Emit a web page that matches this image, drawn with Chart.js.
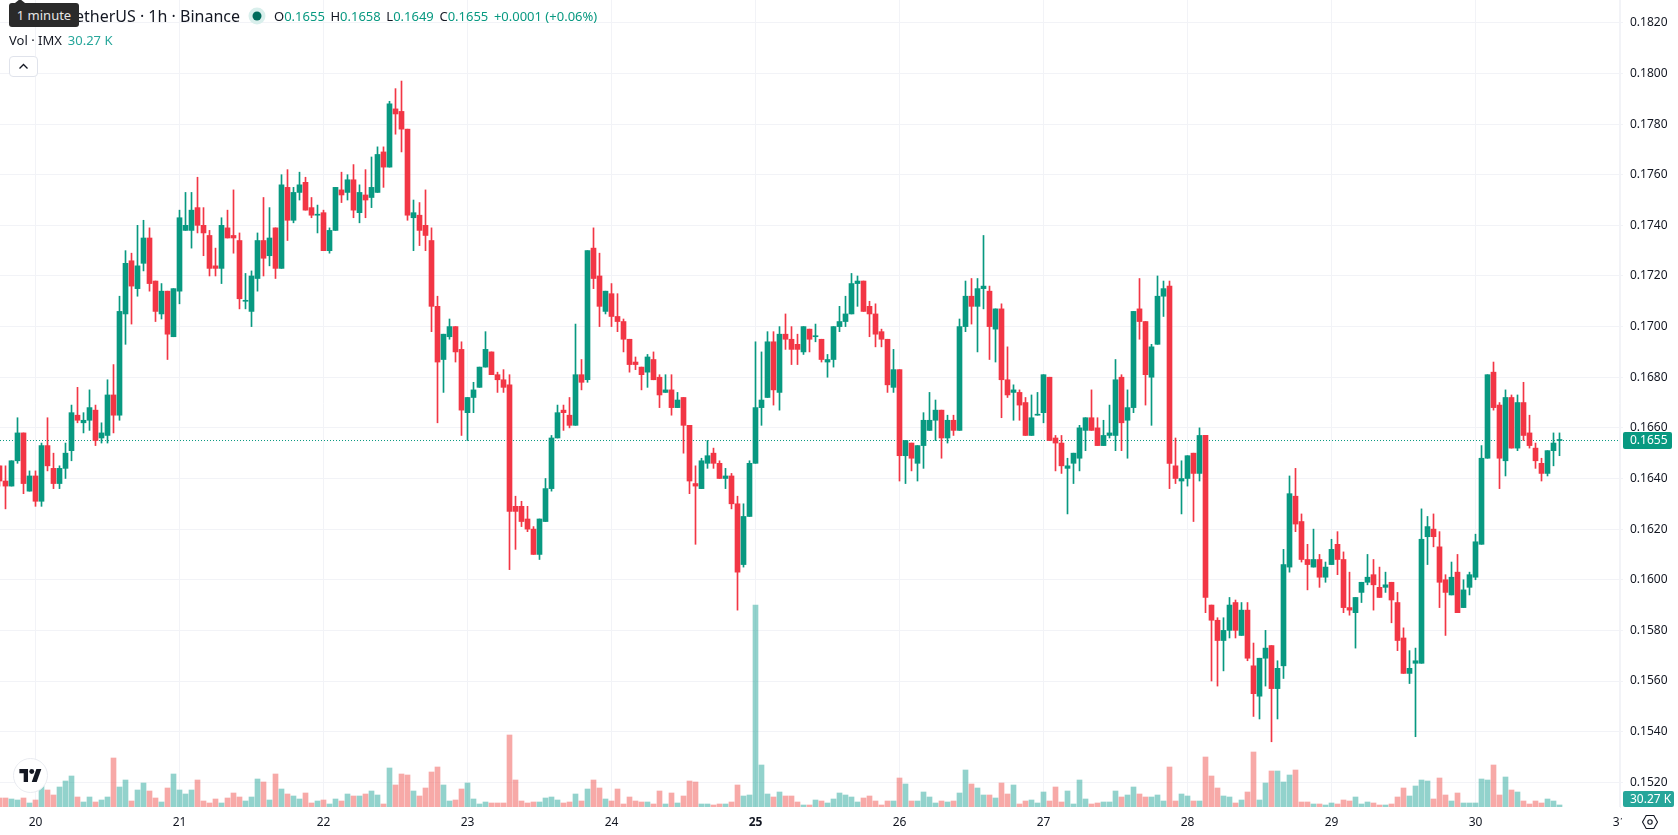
<!DOCTYPE html>
<html>
<head>
<meta charset="utf-8">
<title>IMX / TetherUS 1h</title>
<script src="https://cdn.jsdelivr.net/npm/chart.js@4.4.1/dist/chart.umd.js"></script>
<style>
  html, body { margin: 0; padding: 0; background: #fff; overflow: hidden; }
  body { width: 1678px; height: 835px; position: relative; font-family: "Noto Sans", sans-serif; color: #131722; }
  canvas { position: absolute; left: 0; top: 0; }
  .abs { position: absolute; white-space: nowrap; }
  .up { color: #089981; }
  .vol { color: #26a69a; }
  #title { right: calc(100% - 240px); top: 5px; font-size: 16px; line-height: 22px; }
  #ohlc { left: 274px; top: 6px; font-size: 13px; line-height: 20px; }
  #ohlc b { font-weight: 400; margin-left: 5.6px; }
  #ohlc b:first-child { margin-left: 0; }
  #vollegend { left: 9px; top: 30px; font-size: 13px; line-height: 20px; }
  #vollegend .vol { margin-left: 6px; }
  #hint { left: 9px; top: 3px; width: 70px; height: 24px; line-height: 24px; background: #2a2a2a; color: #e6e6e6;
          border-radius: 3px; font-size: 13px; text-align: center; }
  #hint::before { content: ""; position: absolute; left: 6px; top: -4px; border-left: 5px solid transparent;
          border-right: 5px solid transparent; border-bottom: 4px solid #2a2a2a; }
  #collapse { left: 9px; top: 56px; width: 27px; height: 19px; border: 1px solid #e0e3eb; border-radius: 4px; background: #fff; }
  #logo { left: 13px; top: 758px; width: 33px; height: 33px; border: 1px solid #e9ebf0; border-radius: 50%; background: #fff; }
</style>
</head>
<body>
<canvas id="chart" width="1678" height="835"></canvas>

<div class="abs" id="title">IMX / TetherUS · 1h · Binance</div>
<svg class="abs" style="left:248px;top:7px" width="18" height="18">
  <circle cx="9" cy="9" r="8.5" fill="#d9efec"/>
  <circle cx="9" cy="9" r="4.5" fill="#006b5b"/>
</svg>
<div class="abs" id="ohlc">
  <b>O<span class="up">0.1655</span></b><b>H<span class="up">0.1658</span></b><b>L<span class="up">0.1649</span></b><b>C<span class="up">0.1655</span></b><b class="up">+0.0001 (+0.06%)</b>
</div>
<div class="abs" id="vollegend">Vol · IMX<span class="vol">30.27 K</span></div>
<div class="abs" id="hint">1 minute</div>
<div class="abs" id="collapse">
  <svg width="27" height="19"><path d="M9.5 11.5l4-4 4 4" fill="none" stroke="#131722" stroke-width="1.3"/></svg>
</div>
<div class="abs" id="logo">
  <svg style="position:absolute;left:5px;top:10px" width="23" height="13" viewBox="0 0 36 21">
    <path d="M14 21H7V7H0V0h14z" fill="#131722"/>
    <circle cx="20" cy="4" r="4" fill="#131722"/>
    <path d="M28 21h-8l7.5-21h8z" fill="#131722"/>
  </svg>
</div>
<svg class="abs" style="left:1642px;top:813px" width="16" height="18" viewBox="0 0 16 18">
  <path d="M4.2 2.5h7.6L15.5 9l-3.7 6.5H4.2L.5 9z" fill="none" stroke="#131722" stroke-width="1.1"/>
  <circle cx="8" cy="9" r="2.2" fill="none" stroke="#131722" stroke-width="1.1"/>
</svg>

<script>
// Hourly candles, index 0 is the first (partly cut off) bar on the left
const opens = [
  0.1645,0.1639,0.1637,0.1647,0.1658,0.1635,0.1641,0.1631,0.1653,0.1644,
  0.1638,0.1644,0.1651,0.1665,0.1662,0.1663,0.1667,0.1656,0.1657,0.1673,
  0.1665,0.1705,0.1726,0.1715,0.1725,0.1735,0.1718,0.1705,0.1714,0.1696,
  0.1714,0.1738,0.1738,0.1747,0.1740,0.1736,0.1724,0.1723,0.1739,0.1736,
  0.1734,0.1710,0.1706,0.1719,0.1734,0.1728,0.1739,0.1723,0.1755,0.1742,
  0.1753,0.1757,0.1747,0.1744,0.1745,0.1730,0.1738,0.1754,0.1753,0.1758,
  0.1745,0.1752,0.1751,0.1753,0.1769,0.1763,0.1786,0.1785,0.1778,0.1743,
  0.1744,0.1740,0.1734,0.1708,0.1687,0.1696,0.1700,0.1691,0.1666,0.1672,
  0.1676,0.1684,0.1690,0.1681,0.1679,0.1677,0.1629,0.1629,0.1624,0.1620,
  0.1610,0.1623,0.1636,0.1656,0.1667,0.1665,0.1661,0.1681,0.1679,0.1731,
  0.1720,0.1706,0.1713,0.1704,0.1702,0.1695,0.1686,0.1684,0.1682,0.1687,
  0.1680,0.1674,0.1675,0.1668,0.1672,0.1661,0.1638,0.1636,0.1646,0.1650,
  0.1646,0.1640,0.1641,0.1630,0.1606,0.1625,0.1646,0.1668,0.1672,0.1694,
  0.1674,0.1697,0.1695,0.1693,0.1690,0.1699,0.1696,0.1695,0.1686,0.1687,
  0.1700,0.1702,0.1705,0.1717,0.1718,0.1708,0.1705,0.1698,0.1695,0.1676,
  0.1683,0.1649,0.1654,0.1646,0.1653,0.1659,0.1663,0.1667,0.1656,0.1663,
  0.1659,0.1700,0.1712,0.1708,0.1715,0.1714,0.1699,0.1707,0.1679,0.1674,
  0.1674,0.1670,0.1657,0.1665,0.1666,0.1680,0.1656,0.1654,0.1644,0.1646,
  0.1648,0.1659,0.1664,0.1660,0.1653,0.1657,0.1657,0.1680,0.1663,0.1668,
  0.1707,0.1702,0.1680,0.1693,0.1712,0.1716,0.1645,0.1639,0.1640,0.1650,
  0.1642,0.1657,0.1590,0.1584,0.1576,0.1580,0.1591,0.1578,0.1588,0.1566,
  0.1554,0.1569,0.1574,0.1557,0.1566,0.1605,0.1633,0.1623,0.1608,0.1605,
  0.1608,0.1601,0.1606,0.1614,0.1608,0.1589,0.1587,0.1595,0.1599,0.1602,
  0.1597,0.1597,0.1599,0.1591,0.1577,0.1563,0.1567,0.1567,0.1617,0.1620,
  0.1613,0.1600,0.1594,0.1603,0.1589,0.1597,0.1601,0.1614,0.1648,0.1682,
  0.1669,0.1647,0.1672,0.1652,0.1670,0.1658,0.1652,0.1646,0.1642,0.1651,
  0.1655,
];
const highs = [
  0.1645,0.1645,0.1647,0.1664,0.1658,0.1643,0.1643,0.1654,0.1664,0.1650,
  0.1645,0.1654,0.1669,0.1676,0.1666,0.1675,0.1669,0.1662,0.1679,0.1685,
  0.1712,0.1730,0.1729,0.1740,0.1742,0.1739,0.1718,0.1717,0.1714,0.1715,
  0.1746,0.1753,0.1753,0.1759,0.1747,0.1738,0.1731,0.1743,0.1746,0.1754,
  0.1737,0.1721,0.1722,0.1737,0.1751,0.1747,0.1739,0.1760,0.1762,0.1755,
  0.1761,0.1759,0.1751,0.1748,0.1746,0.1739,0.1755,0.1761,0.1760,0.1764,
  0.1756,0.1762,0.1767,0.1771,0.1771,0.1789,0.1794,0.1797,0.1778,0.1750,
  0.1749,0.1754,0.1739,0.1712,0.1697,0.1703,0.1700,0.1694,0.1672,0.1678,
  0.1684,0.1698,0.1690,0.1682,0.1683,0.1681,0.1633,0.1631,0.1629,0.1621,
  0.1624,0.1640,0.1657,0.1669,0.1669,0.1672,0.1701,0.1687,0.1730,0.1739,
  0.1729,0.1714,0.1717,0.1713,0.1703,0.1695,0.1688,0.1684,0.1689,0.1690,
  0.1681,0.1681,0.1681,0.1674,0.1672,0.1661,0.1645,0.1648,0.1655,0.1652,
  0.1647,0.1644,0.1642,0.1633,0.1630,0.1647,0.1694,0.1690,0.1698,0.1698,
  0.1700,0.1705,0.1700,0.1697,0.1700,0.1699,0.1701,0.1695,0.1689,0.1700,
  0.1708,0.1712,0.1721,0.1720,0.1718,0.1710,0.1709,0.1699,0.1695,0.1691,
  0.1683,0.1655,0.1654,0.1653,0.1666,0.1674,0.1671,0.1667,0.1665,0.1665,
  0.1703,0.1718,0.1719,0.1719,0.1736,0.1716,0.1707,0.1709,0.1692,0.1677,
  0.1675,0.1672,0.1673,0.1674,0.1681,0.1680,0.1657,0.1657,0.1648,0.1650,
  0.1661,0.1664,0.1675,0.1664,0.1663,0.1669,0.1687,0.1681,0.1675,0.1706,
  0.1719,0.1702,0.1693,0.1720,0.1718,0.1718,0.1656,0.1647,0.1649,0.1650,
  0.1660,0.1657,0.1590,0.1585,0.1585,0.1593,0.1592,0.1591,0.1591,0.1575,
  0.1569,0.1580,0.1574,0.1568,0.1612,0.1641,0.1644,0.1626,0.1614,0.1620,
  0.1610,0.1607,0.1616,0.1619,0.1611,0.1603,0.1593,0.1599,0.1610,0.1608,
  0.1605,0.1603,0.1599,0.1595,0.1581,0.1572,0.1573,0.1628,0.1625,0.1626,
  0.1619,0.1602,0.1607,0.1610,0.1600,0.1603,0.1618,0.1653,0.1681,0.1686,
  0.1670,0.1675,0.1673,0.1673,0.1678,0.1665,0.1654,0.1648,0.1651,0.1658,
  0.1658,
];
const lows = [
  0.1637,0.1628,0.1637,0.1646,0.1634,0.1635,0.1629,0.1629,0.1643,0.1636,
  0.1636,0.1640,0.1647,0.1662,0.1658,0.1659,0.1653,0.1654,0.1654,0.1658,
  0.1663,0.1693,0.1701,0.1712,0.1722,0.1714,0.1702,0.1703,0.1687,0.1696,
  0.1709,0.1738,0.1731,0.1737,0.1728,0.1720,0.1720,0.1717,0.1735,0.1729,
  0.1707,0.1707,0.1700,0.1714,0.1720,0.1724,0.1719,0.1723,0.1734,0.1741,
  0.1750,0.1746,0.1743,0.1737,0.1730,0.1729,0.1738,0.1749,0.1750,0.1743,
  0.1741,0.1743,0.1747,0.1753,0.1755,0.1763,0.1776,0.1769,0.1742,0.1730,
  0.1732,0.1730,0.1698,0.1662,0.1674,0.1695,0.1686,0.1657,0.1655,0.1666,
  0.1676,0.1684,0.1681,0.1674,0.1674,0.1604,0.1612,0.1621,0.1619,0.1610,
  0.1608,0.1623,0.1635,0.1656,0.1659,0.1660,0.1661,0.1675,0.1678,0.1715,
  0.1700,0.1705,0.1700,0.1698,0.1690,0.1682,0.1683,0.1675,0.1676,0.1679,
  0.1668,0.1674,0.1665,0.1668,0.1650,0.1634,0.1614,0.1636,0.1644,0.1644,
  0.1640,0.1636,0.1628,0.1588,0.1605,0.1625,0.1646,0.1661,0.1672,0.1669,
  0.1667,0.1691,0.1685,0.1685,0.1689,0.1690,0.1694,0.1686,0.1680,0.1684,
  0.1698,0.1700,0.1705,0.1708,0.1706,0.1696,0.1692,0.1692,0.1674,0.1674,
  0.1639,0.1638,0.1643,0.1639,0.1644,0.1659,0.1655,0.1648,0.1654,0.1657,
  0.1659,0.1698,0.1701,0.1690,0.1707,0.1687,0.1686,0.1664,0.1672,0.1663,
  0.1663,0.1657,0.1657,0.1665,0.1662,0.1655,0.1643,0.1642,0.1626,0.1638,
  0.1643,0.1651,0.1659,0.1653,0.1653,0.1656,0.1651,0.1651,0.1648,0.1666,
  0.1695,0.1669,0.1661,0.1693,0.1704,0.1636,0.1638,0.1626,0.1637,0.1623,
  0.1639,0.1587,0.1560,0.1558,0.1564,0.1577,0.1577,0.1578,0.1568,0.1546,
  0.1545,0.1558,0.1536,0.1545,0.1561,0.1603,0.1619,0.1607,0.1596,0.1605,
  0.1597,0.1599,0.1606,0.1602,0.1587,0.1586,0.1573,0.1591,0.1598,0.1588,
  0.1593,0.1595,0.1583,0.1572,0.1563,0.1559,0.1538,0.1567,0.1606,0.1613,
  0.1589,0.1578,0.1594,0.1587,0.1589,0.1594,0.1600,0.1614,0.1648,0.1667,
  0.1636,0.1641,0.1652,0.1651,0.1655,0.1652,0.1644,0.1639,0.1641,0.1645,
  0.1649,
];
const closes = [
  0.1639,0.1637,0.1647,0.1658,0.1638,0.1641,0.1631,0.1653,0.1645,0.1638,
  0.1644,0.1650,0.1666,0.1663,0.1663,0.1668,0.1655,0.1658,0.1673,0.1665,
  0.1706,0.1725,0.1716,0.1724,0.1735,0.1717,0.1706,0.1714,0.1697,0.1715,
  0.1743,0.1740,0.1746,0.1740,0.1737,0.1723,0.1723,0.1740,0.1735,0.1735,
  0.1711,0.1710,0.1720,0.1734,0.1727,0.1735,0.1723,0.1756,0.1742,0.1753,
  0.1756,0.1746,0.1744,0.1744,0.1730,0.1738,0.1755,0.1752,0.1758,0.1746,
  0.1753,0.1750,0.1755,0.1768,0.1763,0.1788,0.1784,0.1778,0.1744,0.1745,
  0.1738,0.1736,0.1708,0.1686,0.1697,0.1700,0.1690,0.1667,0.1672,0.1675,
  0.1684,0.1691,0.1681,0.1679,0.1676,0.1627,0.1627,0.1623,0.1620,0.1610,
  0.1624,0.1636,0.1656,0.1666,0.1666,0.1661,0.1681,0.1678,0.1730,0.1719,
  0.1708,0.1714,0.1704,0.1702,0.1695,0.1685,0.1685,0.1681,0.1688,0.1679,
  0.1673,0.1675,0.1668,0.1671,0.1661,0.1639,0.1637,0.1647,0.1649,0.1646,
  0.1640,0.1641,0.1630,0.1603,0.1625,0.1646,0.1668,0.1671,0.1694,0.1675,
  0.1697,0.1695,0.1691,0.1691,0.1700,0.1695,0.1696,0.1687,0.1687,0.1700,
  0.1702,0.1705,0.1717,0.1718,0.1706,0.1705,0.1697,0.1695,0.1677,0.1683,
  0.1649,0.1655,0.1648,0.1653,0.1663,0.1663,0.1667,0.1656,0.1663,0.1659,
  0.1700,0.1712,0.1708,0.1715,0.1716,0.1700,0.1707,0.1679,0.1673,0.1675,
  0.1669,0.1657,0.1664,0.1665,0.1681,0.1655,0.1654,0.1645,0.1645,0.1650,
  0.1660,0.1664,0.1659,0.1653,0.1657,0.1658,0.1679,0.1662,0.1668,0.1706,
  0.1702,0.1681,0.1692,0.1712,0.1715,0.1646,0.1640,0.1640,0.1649,0.1642,
  0.1657,0.1593,0.1584,0.1576,0.1580,0.1590,0.1580,0.1588,0.1569,0.1555,
  0.1569,0.1573,0.1557,0.1565,0.1606,0.1634,0.1622,0.1608,0.1606,0.1608,
  0.1601,0.1605,0.1612,0.1608,0.1589,0.1588,0.1593,0.1599,0.1601,0.1598,
  0.1593,0.1598,0.1592,0.1576,0.1563,0.1565,0.1568,0.1616,0.1621,0.1617,
  0.1599,0.1595,0.1601,0.1587,0.1596,0.1602,0.1615,0.1648,0.1681,0.1668,
  0.1648,0.1672,0.1652,0.1670,0.1657,0.1653,0.1647,0.1642,0.1651,0.1654,
  0.1655,
];
// Volume in thousands of IMX
const volumes = [
  135,135,120,105,135,60,105,330,255,180,
  300,390,465,150,75,150,75,105,150,735,
  300,405,90,255,360,240,135,75,285,495,
  255,195,255,405,90,60,120,60,135,210,
  150,90,150,420,375,105,495,270,195,165,
  120,210,60,90,105,45,120,90,195,165,
  165,195,240,180,45,585,330,495,480,240,
  165,285,525,600,330,90,105,270,360,120,
  45,75,60,60,60,1080,405,90,60,75,
  75,135,150,105,60,75,195,90,270,405,
  285,120,90,270,45,150,90,75,75,45,
  240,45,210,60,165,390,375,45,45,30,
  45,45,75,330,165,180,3030,630,195,150,
  225,165,165,75,30,30,105,90,60,120,
  210,180,150,75,135,165,90,30,90,90,
  435,345,90,90,225,150,60,90,75,90,
  210,555,345,285,180,180,135,360,195,330,
  45,90,105,60,225,90,300,75,240,45,
  405,120,45,60,75,75,240,150,180,300,
  195,150,150,180,90,600,90,195,165,90,
  90,750,465,285,165,150,60,105,225,825,
  105,360,540,540,375,480,555,75,75,45,
  45,30,60,45,105,90,150,45,75,60,
  30,30,45,150,285,165,315,405,390,120,
  435,180,90,210,60,60,60,420,405,630,
  180,450,255,225,90,45,90,60,120,90,
  30.27,
];

const dayTicks = [6, 30, 54, 78, 102, 126, 150, 174, 198, 222, 246, 270];
const dayLabels = ["20", "21", "22", "23", "24", "25", "26", "27", "28", "29", "30", "31"];
const monthStartTick = 126; // drawn bold
const priceTicks = [
  0.152, 0.154, 0.156, 0.158, 0.16, 0.162, 0.164, 0.166, 0.168,
  0.17, 0.172, 0.174, 0.176, 0.178, 0.18, 0.182,
];
const lastPrice = 0.1655;
const lastVolumeLabel = "30.27 K";

const UP = "#089981";
const DOWN = "#F23645";
const UP_VOL = "rgba(38,166,154,0.5)";
const DOWN_VOL = "rgba(239,83,80,0.5)";
const GRID = "#f2f3f7";
const FONT = '"Noto Sans", sans-serif';

const candleColors = closes.map((c, i) => (c >= opens[i] ? UP : DOWN));
const volumeColors = closes.map((c, i) => (c >= opens[i] ? UP_VOL : DOWN_VOL));

// Visible range in bar indexes: 6px per bar across a 1620px pane
const xMin = 0.5 / 6;
const xMax = 1620.5 / 6;

// Value tags on the price axis, plus clipping of the x labels at the pane edge
const axisTags = {
  id: "axisTags",
  afterDraw(chart) {
    const { ctx, scales } = chart;
    ctx.save();
    ctx.fillStyle = "#fff";
    ctx.fillRect(1622, 808, 56, 27);
    ctx.font = "12px " + FONT;
    ctx.textBaseline = "middle";
    const y = scales.y.getPixelForValue(lastPrice);
    ctx.fillStyle = UP;
    ctx.beginPath();
    ctx.roundRect(1623, y - 8.5, 49, 17, 2);
    ctx.fill();
    ctx.fillStyle = "#fff";
    ctx.fillText(lastPrice.toFixed(4), 1630, y + 0.5);
    ctx.fillStyle = "#26a69a";
    ctx.beginPath();
    ctx.roundRect(1623, 791, 51, 16, 2);
    ctx.fill();
    ctx.fillStyle = "#fff";
    ctx.fillText(lastVolumeLabel, 1630, 799.5);
    ctx.restore();
  },
};

// The scale's label margins would shrink the pane, so they get dropped
const noMargins = (s) => {
  s.paddingTop = s.paddingBottom = s.paddingLeft = s.paddingRight = 0;
};

const bars = (extra) => ({
  type: "bar",
  grouped: false,
  barPercentage: 1,
  categoryPercentage: 1,
  ...extra,
});

new Chart(document.getElementById("chart"), {
  type: "bar",
  data: {
    datasets: [
      bars({
        label: "Volume",
        yAxisID: "yVol",
        order: 4,
        maxBarThickness: 5,
        backgroundColor: volumeColors,
        data: volumes.map((v, i) => ({ x: i, y: v })),
      }),
      {
        type: "line",
        label: "Last price",
        yAxisID: "y",
        order: 3,
        borderColor: UP,
        borderWidth: 1,
        borderDash: [1, 2],
        pointRadius: 0,
        data: [
          { x: xMin, y: lastPrice },
          { x: xMax, y: lastPrice },
        ],
      },
      bars({
        label: "Wicks",
        yAxisID: "y",
        order: 2,
        maxBarThickness: 1,
        backgroundColor: candleColors,
        data: highs.map((h, i) => ({ x: i, y: [lows[i], h] })),
      }),
      bars({
        label: "Bodies",
        yAxisID: "y",
        order: 1,
        maxBarThickness: 5,
        minBarLength: 1,
        backgroundColor: candleColors,
        data: opens.map((o, i) => ({ x: i, y: [o, closes[i]] })),
      }),
    ],
  },
  plugins: [axisTags],
  options: {
    responsive: false,
    animation: false,
    devicePixelRatio: 1,
    layout: { padding: 0 },
    plugins: { legend: { display: false }, tooltip: { enabled: false } },
    scales: {
      x: {
        type: "linear",
        offset: false,
        min: xMin,
        max: xMax,
        afterFit: (s) => { s.height = 28; noMargins(s); },
        afterBuildTicks: (s) => { s.ticks = dayTicks.map((value) => ({ value })); },
        border: { display: false },
        grid: { color: GRID, drawTicks: false, offset: false },
        ticks: {
          autoSkip: false,
          maxRotation: 0,
          padding: 8,
          color: "#131722",
          font: (c) => ({
            family: FONT,
            size: 12,
            weight: c.tick && c.tick.value === monthStartTick ? "bold" : "normal",
          }),
          callback: (v) => dayLabels[dayTicks.indexOf(v)],
        },
      },
      y: {
        position: "right",
        // 50.63px per 0.002, 0.1820 about 22.8px below the top edge so the
        // last-price line lands on a whole pixel row
        min: 0.182 - (807 - 22.82) / 25315,
        max: 0.182 + 22.82 / 25315,
        afterFit: (s) => { s.width = 58; noMargins(s); },
        afterBuildTicks: (s) => { s.ticks = priceTicks.map((value) => ({ value })); },
        border: { color: GRID },
        grid: { color: GRID, tickLength: 3 },
        ticks: {
          padding: 7,
          color: "#131722",
          font: { family: FONT, size: 12 },
          callback: (v) => v.toFixed(4),
        },
      },
      // Volume shares the pane and only rises from its bottom edge
      yVol: { display: false, min: 0, max: 12105 },
    },
  },
});
</script>
</body>
</html>
